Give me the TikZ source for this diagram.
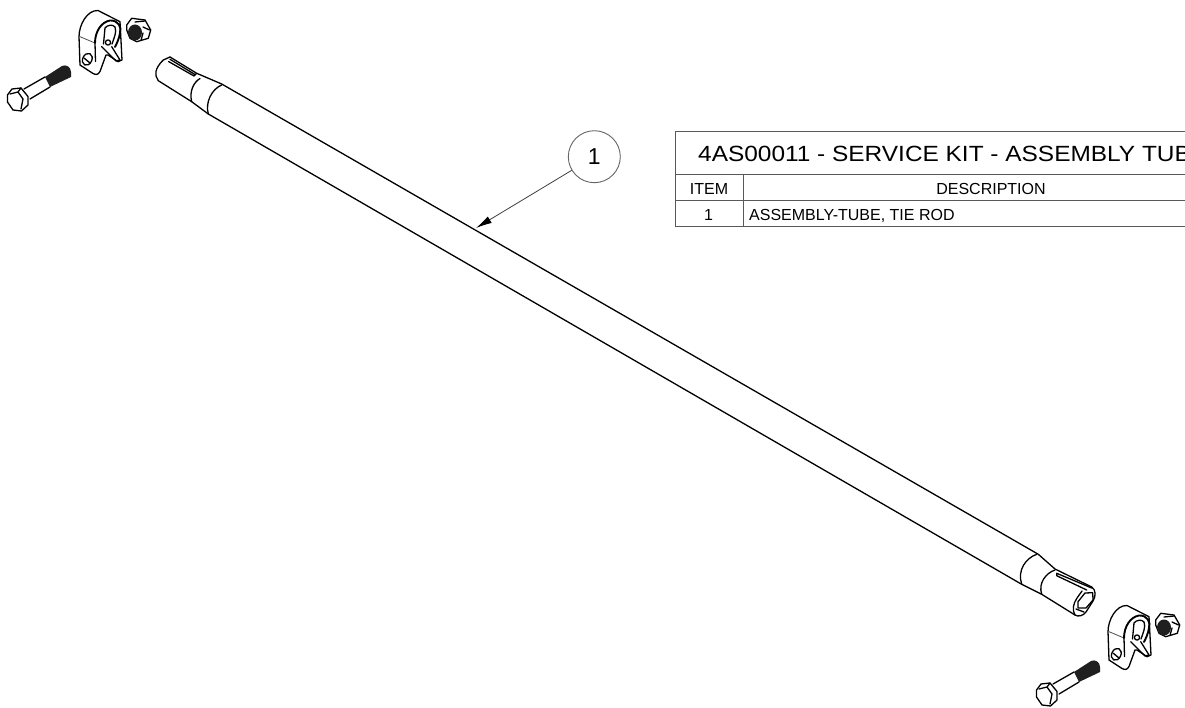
\documentclass[tikz,border=0pt]{standalone}
\usepackage{fontspec}
\setmainfont{Liberation Sans}
\usetikzlibrary{arrows.meta}
\tikzset{
  part/.style={draw=black,line width=1.3pt,line join=round,line cap=round},
  thin part/.style={draw=black!70,line width=.8pt,line cap=round},
  tablerule/.style={draw=black!65,line width=1pt},
  balloon/.style={draw=black!60,circle,line width=.9pt,minimum size=52pt,inner sep=0pt,font=\fontsize{23}{23}\selectfont},
  leader/.style={draw=black!75,line width=.8pt,-{Latex[length=16pt,width=7.5pt,black]}},
  titletext/.style={anchor=base west,inner sep=0pt,xscale=1.11,font=\fontsize{22}{22}\selectfont},
  celltext/.style={anchor=base,inner sep=0pt,font=\fontsize{16}{16}\selectfont}
}
\newcommand{\hardware}{%
  % bolt
  \fill[black!88] (45,77) -- (62,66) .. controls (66,64) and (71,67) .. (71,72) -- (71,77) -- (50,87) -- cycle;
  \draw[part] (24,89) -- (45,77) (30,99) -- (50,87);
  \draw[part] (7.5,95) -- (12,89) -- (21,88) -- (28,96.5) -- (28,105) -- (21.5,111) -- (13,110) -- (7.5,102) -- cycle;
  \draw[part] (10,94) -- (18,92) -- (23,99) -- (21,109) (18,92) -- (21,88);
  % clamp
  \draw[part] (79,36.7) .. controls (79,25) and (87,10) .. (98,10.5) -- (120,21.7) -- (122,60) -- (118,61.7) -- (108,55) -- (106,55)
     -- (100,71.5) .. controls (98,75) and (96,75) .. (93,73.5) -- (80,65) -- cycle;
  \draw[thin part] (80,36.7) -- (95,43);
  \draw[part,line width=1.9pt] (95,43) .. controls (95,32) and (101,22) .. (110,20.5) .. controls (118,20) and (122,27) .. (120,33)
     .. controls (119,39) and (117,43) .. (115,47);
  \draw[part] (105,28) .. controls (107,25) and (113,24) .. (115,27) .. controls (117,32) and (114,38) .. (112,44);
  \draw[part] (105,28) -- (103.5,44);
  \draw[part] (95,43) -- (95.5,61.5);
  \draw[part] (101.7,46.7) -- (116,61) -- (120,60) -- (111.7,46.7);
  \draw[part] (108,42.5) circle (2.6);
  \draw[part,rotate around={-25:(87.3,59.3)}] (87.3,59.3) ellipse (4.6 and 6.2);
  \draw[part] (84,58) -- (90,63);
  % nut
  \draw[part] (126.7,25) -- (131.7,18.3) -- (145,20) -- (150.7,30) -- (148.3,38.3) -- (136.7,41.7) -- (130,38.3) -- (126.7,30) -- cycle;
  \fill[black!88] (135,32.5) ellipse (7 and 8);
  \draw[part] (135,22) -- (145,21) (143,27) -- (149.5,30) (143,33) -- (141,40.5);
}
\begin{document}
\begin{tikzpicture}[x=1pt,y=-1pt]
\useasboundingbox (0,0) rectangle (1185,708);
\clip (0,0) rectangle (1185,708);
\fill[white] (0,0) rectangle (1185,708);

% tube body
\draw[part] (170,57) -- (196.7,73.3) -- (221.7,84) -- (1038.3,554.3) -- (1055,569) -- (1091.7,587);
\draw[part] (158.3,80.7) -- (191.7,101.7) -- (208.3,114) -- (1021.7,584.3) -- (1041.7,594.3) -- (1075,615);
% left end
\draw[part] (158.3,80.7) .. controls (154,75) and (155,68) .. (163.3,60) -- (170,57);
\draw[part] (200,78.5) .. controls (194,82) and (189,91) .. (191.7,101.7);
\draw[part] (221.7,85) .. controls (212,89) and (205,102) .. (208.3,114);
\draw[part] (168.5,61.5) -- (194,76) -- (196.7,73.3) (170,59.3) -- (195,74.5);
% right end
\draw[part] (1036.7,554.3) .. controls (1026,558) and (1017,570) .. (1021.7,584.3);
\draw[part] (1055,570) .. controls (1046,573) and (1038,583) .. (1041.7,594.3);
\draw[part] (1056.7,573.3) -- (1091.7,588) (1056.7,575.7) -- (1086.7,590) (1056.7,573.3) -- (1056.7,575.7);
\draw[part] (1091.7,587) .. controls (1096,590) and (1096,596) .. (1093,601) -- (1086,612) .. controls (1083,616) and (1078,617) .. (1075,615) .. controls (1072,610) and (1073,604) .. (1077,598) -- (1082,591);
\draw[part] (1078,601.7) -- (1085,593) -- (1092.7,592.7) -- (1093,600) -- (1086,608) -- (1078,608) -- cycle;
\draw[part] (1076,609) -- (1084,612);

% hardware
\hardware
\begin{scope}[shift={(1029,595)}]
\hardware
\end{scope}

% balloon and leader
\node[balloon] (bal) at (594.3,156.7) {1};
\coordinate (tip) at (476,228);
\draw[leader] (bal) -- (tip);

% parts table
\draw[tablerule] (1195,131.7) -- (675.7,131.7) -- (675.7,226.7) -- (1195,226.7);
\draw[tablerule] (675.7,175) -- (1195,175) (675.7,200.7) -- (1195,200.7) (743.3,175) -- (743.3,226.7);
\node[titletext] (title) at (698,161.7) {4AS00011 - SERVICE KIT - ASSEMBLY TUBE};
\node[celltext] (item) at (709,195) {ITEM};
\node[celltext] (desc) at (991,195) {DESCRIPTION};
\node[celltext] (one) at (708.5,221) {1};
\node[celltext,anchor=base west] (name) at (749,221) {ASSEMBLY-TUBE, TIE ROD};
\end{tikzpicture}
\end{document}
